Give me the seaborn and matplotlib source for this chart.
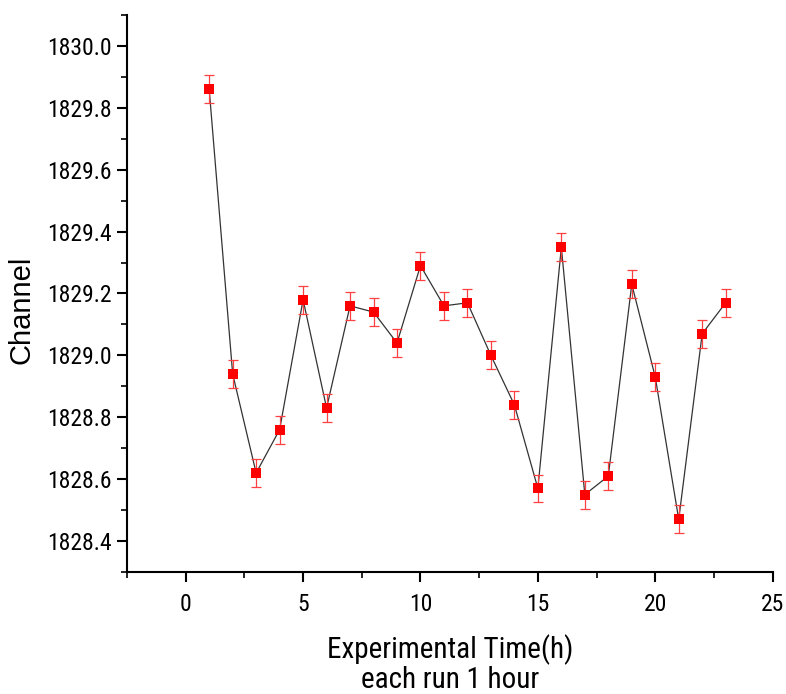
import matplotlib
matplotlib.use("Agg")
import matplotlib.pyplot as plt
import seaborn as sns
import pandas as pd
from matplotlib.ticker import MultipleLocator, FormatStrFormatter

hours = list(range(1, 24))
channel = [1829.86, 1828.94, 1828.62, 1828.76, 1829.18, 1828.83, 1829.16, 1829.14,
           1829.04, 1829.29, 1829.16, 1829.17, 1829.00, 1828.84, 1828.57, 1829.35,
           1828.55, 1828.61, 1829.23, 1828.93, 1828.47, 1829.07, 1829.17]
errors = [0.045] * 23

df = pd.DataFrame({"hour": hours, "channel": channel, "err": errors})

sns.set_style("ticks")
NARROW = ["Liberation Sans Narrow", "Arial Narrow", "Roboto Condensed",
          "PT Sans Narrow", "Archivo Narrow", "Liberation Sans", "DejaVu Sans"]
plt.rcParams["font.family"] = NARROW
plt.rcParams["text.color"] = "black"
plt.rcParams["axes.labelcolor"] = "black"
plt.rcParams["xtick.color"] = "black"
plt.rcParams["ytick.color"] = "black"

fig = plt.figure(figsize=(7.86, 6.94), dpi=100)
ax = fig.add_axes([0.1616, 0.1758, 0.8214, 0.8026])

sns.lineplot(data=df, x="hour", y="channel", color="#333333", lw=0.9, ax=ax)
ax.errorbar(df["hour"], df["channel"], yerr=df["err"], fmt="none",
            ecolor="#ff4040", elinewidth=0.9, capsize=3.6, capthick=0.9)
sns.scatterplot(data=df, x="hour", y="channel", marker="s", s=55, color="red",
                edgecolor="red", linewidth=0, ax=ax, zorder=3)

ax.set_xlim(-2.5, 25)
ax.set_ylim(1828.3, 1830.1)
ax.xaxis.set_major_locator(MultipleLocator(5))
ax.xaxis.set_minor_locator(MultipleLocator(2.5))
ax.yaxis.set_major_locator(MultipleLocator(0.2))
ax.yaxis.set_minor_locator(MultipleLocator(0.1))
ax.yaxis.set_major_formatter(FormatStrFormatter("%.1f"))

for s in ["top", "right"]:
    ax.spines[s].set_visible(False)
for s in ["left", "bottom"]:
    ax.spines[s].set_linewidth(1.5)
    ax.spines[s].set_color("black")

ax.tick_params(which="major", direction="out", length=7, width=1.5, labelsize=17)
ax.tick_params(which="minor", direction="out", length=4, width=1.2)
ax.tick_params(axis="x", which="major", pad=8)
ax.tick_params(axis="y", which="major", pad=4)

ax.set_xlabel("Experimental Time(h)\neach run 1 hour", fontsize=21, labelpad=13.5,
              linespacing=1.05)
ax.set_ylabel("Channel", fontsize=21,
              family=["Liberation Sans", "DejaVu Sans"])
ax.yaxis.set_label_coords(-0.141, 0.47)

fig.savefig("out.png", dpi=100)
